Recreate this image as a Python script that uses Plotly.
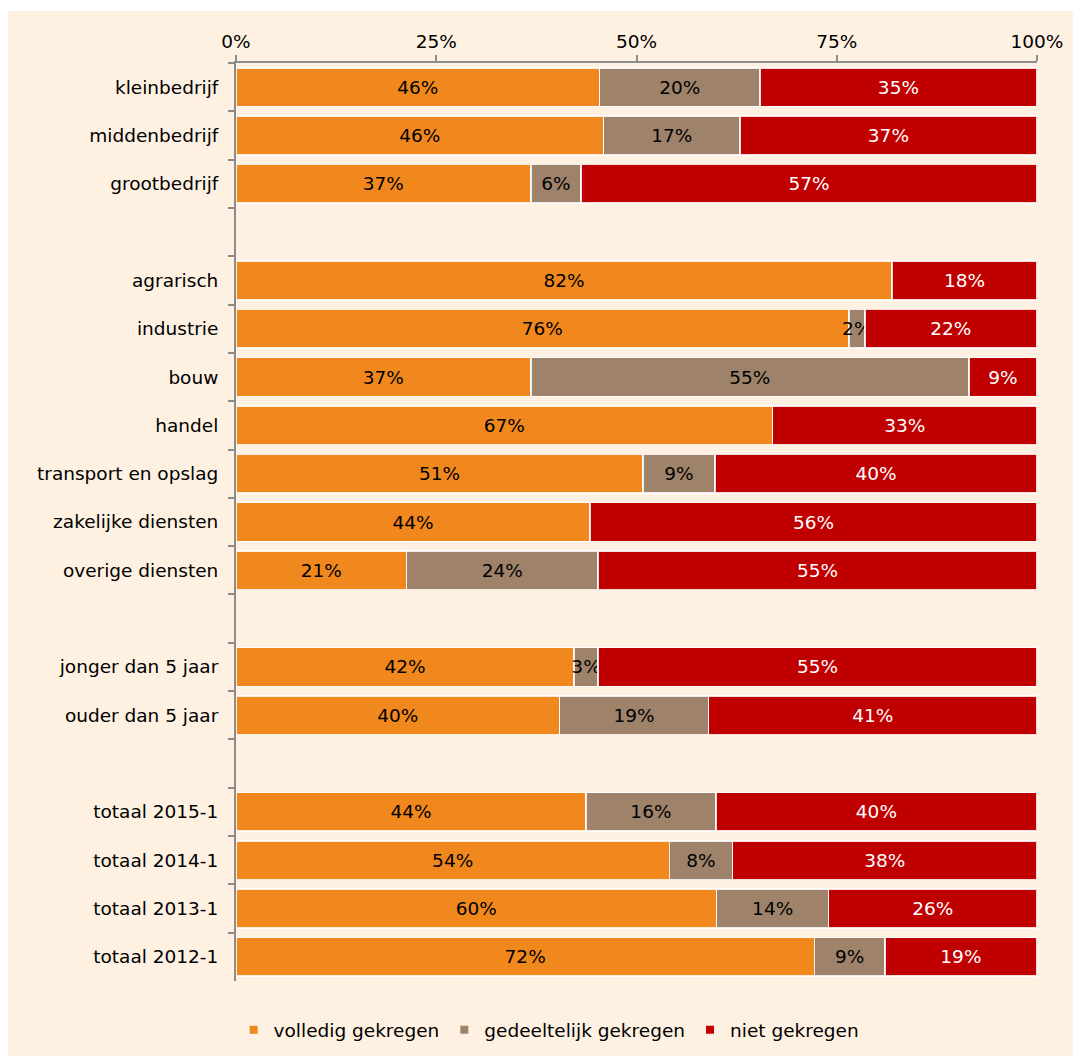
import plotly.graph_objects as go

categories = ["kleinbedrijf", "middenbedrijf", "grootbedrijf", " ",
              "agrarisch", "industrie", "bouw", "handel", "transport en opslag",
              "zakelijke diensten", "overige diensten", "  ",
              "jonger dan 5 jaar", "ouder dan 5 jaar", "   ",
              "totaal 2015-1", "totaal 2014-1", "totaal 2013-1", "totaal 2012-1"]

volledig = [45.4, 45.9, 36.8, None, 81.9, 76.5, 36.8, 67.0, 50.8, 44.2, 21.3, None,
            42.2, 40.4, None, 43.7, 54.1, 60.0, 72.2]
gedeeltelijk = [20.0, 17.0, 6.3, None, 0.0, 2.0, 54.7, 0.0, 9.0, 0.0, 23.9, None,
                3.0, 18.6, None, 16.2, 7.9, 14.0, 8.8]
niet = [34.6, 37.1, 56.9, None, 18.1, 21.5, 8.5, 33.0, 40.2, 55.8, 54.8, None,
        54.8, 41.0, None, 40.1, 38.0, 26.0, 19.0]

volledig_labels = ["46%", "46%", "37%", "", "82%", "76%", "37%", "67%", "51%", "44%", "21%", "",
                   "42%", "40%", "", "44%", "54%", "60%", "72%"]
gedeeltelijk_labels = ["20%", "17%", "6%", "", "", "2%", "55%", "", "9%", "", "24%", "",
                       "3%", "19%", "", "16%", "8%", "14%", "9%"]
niet_labels = ["35%", "37%", "57%", "", "18%", "22%", "9%", "33%", "40%", "56%", "55%", "",
               "55%", "41%", "", "40%", "38%", "26%", "19%"]

tick_vals = [0, 25, 50, 75, 100]
tick_text = ["0%", "25%", "50%", "75%", "100%"]

series = [
    ("volledig gekregen", volledig, volledig_labels, "#F0881E", "#000000"),
    ("gedeeltelijk gekregen", gedeeltelijk, gedeeltelijk_labels, "#9E836A", "#000000"),
    ("niet gekregen", niet, niet_labels, "#C00000", "#FFFFFF"),
]

FONT = "DejaVu Sans"
FS = 18.5
fig = go.Figure()
for name, vals, labels, color, tcolor in series:
    fig.add_trace(go.Bar(
        y=categories, x=vals, orientation="h", name=name,
        marker=dict(color=color, line=dict(color="rgba(255,255,255,0.85)", width=1.5)),
        text=labels, textposition="inside", insidetextanchor="middle",
        textangle=0, constraintext="none",
        textfont=dict(family=FONT, size=FS, color=tcolor),
        showlegend=False, hoverinfo="skip",
    ))
# legend proxies with small square markers
for name, vals, labels, color, tcolor in series:
    fig.add_trace(go.Scatter(
        x=[None], y=[None], mode="markers", name=name,
        marker=dict(symbol="square", size=8, color=color),
        showlegend=True,
    ))

fig.update_layout(
    width=1081, height=1056,
    barmode="stack", bargap=0.2,
    paper_bgcolor="#FFFFFF", plot_bgcolor="rgba(0,0,0,0)",
    margin=dict(l=228, r=52, t=55, b=83),
    font=dict(family=FONT, size=FS, color="#000000"),
    uniformtext=dict(minsize=FS, mode="show"),
    xaxis=dict(side="top", range=[0, 100], tickvals=tick_vals, ticktext=tick_text,
               showgrid=False, zeroline=False, showline=True, linecolor="#8C8C8C", linewidth=2,
               ticks="outside", ticklen=6, tickcolor="#8C8C8C", tickwidth=2,
               tickfont=dict(family=FONT, size=FS)),
    yaxis=dict(autorange="reversed", type="category", showgrid=False, zeroline=False,
               showline=True, linecolor="#8C8C8C", linewidth=2,
               ticks="outside", ticklen=6, tickcolor="#8C8C8C", tickwidth=2,
               tickson="boundaries", ticklabelstandoff=12,
               tickfont=dict(family=FONT, size=FS)),
    legend=dict(orientation="h", traceorder="normal", x=-0.003, xanchor="left",
                y=-0.033, yanchor="top",
                bgcolor="rgba(0,0,0,0)", font=dict(family=FONT, size=FS),
                itemwidth=30, tracegroupgap=0),
    shapes=[dict(type="rect", xref="paper", yref="paper",
                 x0=-0.3, x1=1.1, y0=-0.2, y1=1.0566,
                 fillcolor="#FEF1E1", line=dict(width=0), layer="below")],
)

fig.write_html("out.html")
